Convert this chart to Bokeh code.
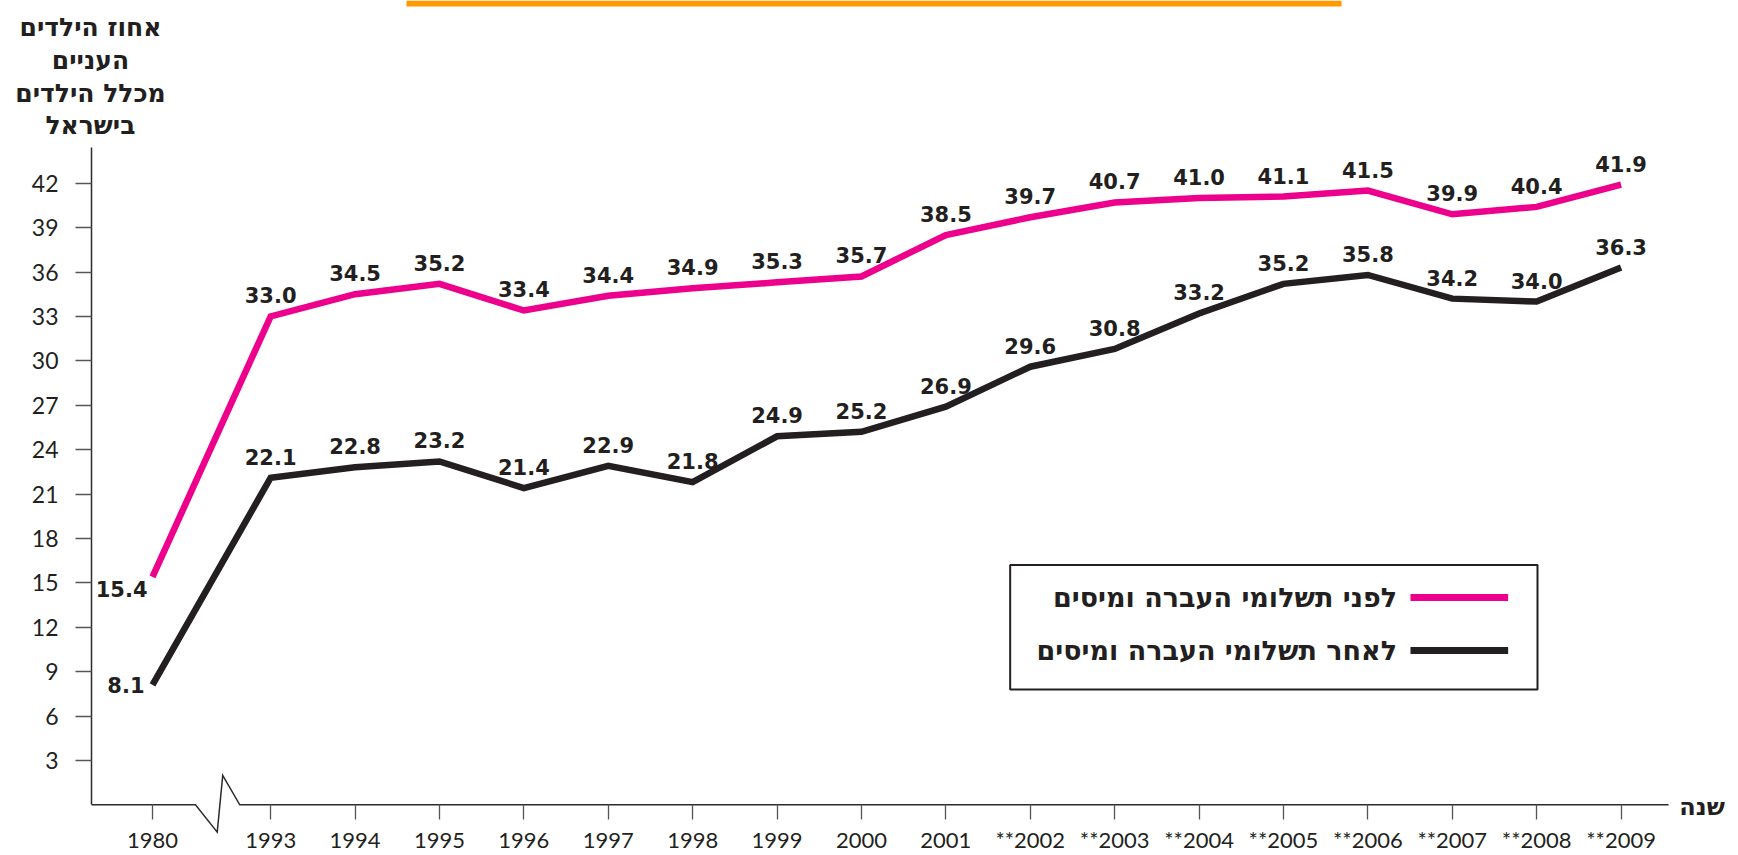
from bokeh.plotting import figure
from bokeh.models import ColumnDataSource, FixedTicker, LinearAxis, Range1d
from bokeh.core.properties import value
from bokeh.embed import file_html
from bokeh.resources import INLINE

# ---------------- data ----------------
years = ["1980", "1993", "1994", "1995", "1996", "1997", "1998", "1999", "2000",
         "2001", "**2002", "**2003", "**2004", "**2005", "**2006", "**2007",
         "**2008", "**2009"]
before = [15.4, 33.0, 34.5, 35.2, 33.4, 34.4, 34.9, 35.3, 35.7, 38.5, 39.7,
          40.7, 41.0, 41.1, 41.5, 39.9, 40.4, 41.9]
after = [8.1, 22.1, 22.8, 23.2, 21.4, 22.9, 21.8, 24.9, 25.2, 26.9, 29.6,
         30.8, 33.2, 35.2, 35.8, 34.2, 34.0, 36.3]
y_ticks = [3, 6, 9, 12, 15, 18, 21, 24, 27, 30, 33, 36, 39, 42]
series_names = ["לפני תשלומי העברה ומיסים", "לאחר תשלומי העברה ומיסים"]
y_title_lines = ["אחוז הילדים", "העניים", "מכלל הילדים", "בישראל"]
x_title = "שנה"

# ---------------- style / layout ----------------
PINK = "#ec008c"
DARK = "#231f20"
AXIS = "#2b2b2b"
TICK = "#555555"
ORANGE = "#ff9900"
GAP = 1.4            # visual gap (in year slots) across the axis break
HEB_FONT = value("DejaVu Sans")
NUM_FONT = value("DejaVu Sans")
TICK_FONT = "Lato"

W, H = 1738, 855
PX_X = 84.4          # pixels per year slot
PX_Y = 14.8          # pixels per percentage point
X0_PX = 152.0        # pixel column of the first year
Y0_PX = 804.3        # pixel row of value 0

xs = [0.0] + [GAP + i for i in range(len(years) - 1)]

AX_LEFT = (91 - X0_PX) / PX_X     # y axis position (data units)
AX_RIGHT = (1668 - X0_PX) / PX_X  # end of x axis line
Y_TOP = (Y0_PX - 147) / PX_Y      # top of y axis line

p = figure(width=W, height=H, title=None,
           x_range=Range1d(-X0_PX / PX_X, (W - X0_PX) / PX_X),
           y_range=Range1d((Y0_PX - H) / PX_Y, Y0_PX / PX_Y),
           x_axis_type=None, y_axis_type=None,
           output_backend="svg", toolbar_location=None,
           min_border=0)
p.outline_line_color = None
p.background_fill_color = "white"
p.border_fill_color = "white"

# y axis
yax = LinearAxis(ticker=FixedTicker(ticks=y_ticks),
                 fixed_location=AX_LEFT, bounds=(0, Y_TOP),
                 major_tick_in=0, major_tick_out=16,
                 minor_tick_in=0, minor_tick_out=0,
                 major_label_standoff=17,
                 axis_line_color=AXIS, axis_line_width=1.5,
                 major_tick_line_color=TICK, major_tick_line_width=1.3,
                 major_label_text_font=TICK_FONT,
                 major_label_text_font_size="23px",
                 major_label_text_color=DARK)
p.add_layout(yax, "left")

# x axis (its line is drawn separately because of the break)
xax = LinearAxis(ticker=FixedTicker(ticks=xs),
                 fixed_location=0,
                 major_label_overrides={x: lab for x, lab in zip(xs, years)},
                 major_tick_in=0, major_tick_out=15,
                 minor_tick_in=0, minor_tick_out=0,
                 major_label_standoff=6,
                 axis_line_color=None,
                 major_tick_line_color=TICK, major_tick_line_width=1.3,
                 major_label_text_font=TICK_FONT,
                 major_label_text_font_size="22px",
                 major_label_text_color=DARK)
p.add_layout(xax, "below")

# baseline with zig-zag break
brk_x = [AX_LEFT, 0.509, 0.767, 0.832, 1.034, AX_RIGHT]
brk_y = [0, 0, -1.85, 1.99, 0, 0]
p.line(brk_x, brk_y, line_color=AXIS, line_width=1.5, line_join="miter")

# series lines
p.line(xs, before, line_color=PINK, line_width=6.5, line_join="miter")
p.line(xs, after, line_color=DARK, line_width=6.5, line_join="miter")

# value labels
for vals in (before, after):
    src = ColumnDataSource(dict(x=xs[1:], y=vals[1:],
                                t=[f"{v:.1f}" for v in vals[1:]]))
    p.text("x", "y", text="t", source=src, y_offset=-21,
           text_align="center", text_baseline="middle",
           text_font=NUM_FONT, text_font_style="bold",
           text_font_size="21px", text_color=DARK)
p.text([xs[0]], [before[0]], text=[f"{before[0]:.1f}"], x_offset=-5, y_offset=12,
       text_align="right", text_baseline="middle", text_font=NUM_FONT,
       text_font_style="bold", text_font_size="21px", text_color=DARK)
p.text([xs[0]], [after[0]], text=[f"{after[0]:.1f}"], x_offset=-8, y_offset=0,
       text_align="right", text_baseline="middle", text_font=NUM_FONT,
       text_font_style="bold", text_font_size="21px", text_color=DARK)

# legend (right-to-left: sample line on the right of the text)
p.quad(left=[10.162], right=[16.41], top=[16.20], bottom=[7.79],
       fill_color="white", line_color=DARK, line_width=2)
leg_y = [14.01, 10.43]
for name, col, ly in zip(series_names, [PINK, DARK], leg_y):
    p.line([14.905, 16.062], [ly, ly], line_color=col, line_width=7)
    p.text([14.746], [ly], text=[name], text_align="right",
           text_baseline="middle", text_font=HEB_FONT, text_font_style="bold",
           text_font_size="27px", text_color=DARK)

# y-axis title (above the axis)
p.text([-0.735] * 4, [52.54, 50.29, 48.06, 45.9], text=y_title_lines,
       text_align="center", text_baseline="middle", text_font=HEB_FONT,
       text_font_style="bold", text_font_size="25px", text_color=DARK)

# x-axis title
p.text([18.36], [-0.16], text=[x_title], text_align="center",
       text_baseline="middle", text_font=HEB_FONT, text_font_style="bold",
       text_font_size="24px", text_color=DARK)

# orange header bar
p.quad(left=[3.009], right=[14.088], top=[Y0_PX / PX_Y],
       bottom=[(Y0_PX - 6) / PX_Y], fill_color=ORANGE, line_color=None)

open("out.html", "w").write(file_html(p, INLINE))
